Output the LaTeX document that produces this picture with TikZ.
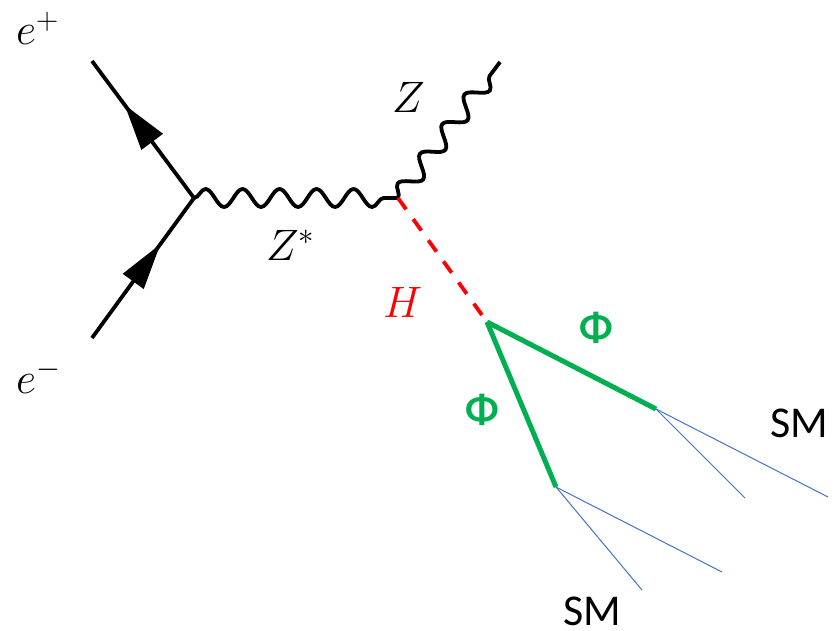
\documentclass[tikz,border=0pt]{standalone}
\usepackage{fix-cm}
\usepackage{fontspec}
\newfontfamily\calib{Carlito}
\usetikzlibrary{decorations.pathmorphing,calc}
\definecolor{phigreen}{RGB}{0,176,80}
\definecolor{smblue}{RGB}{68,114,196}
\tikzset{
  fermion/.style={line width=3.8pt, black},
  boson/.style={line width=3.8pt, black, decorate, decoration={snake, amplitude=9pt, segment length=37pt}},
  higgs/.style={line width=3.8pt, red, dash pattern=on 14pt off 12pt},
  philine/.style={line width=5pt, phigreen},
  smline/.style={line width=1pt, smblue},
  mathlbl/.style={inner sep=0pt, anchor=base west, font=\fontsize{44}{50}\selectfont},
  smlbl/.style={inner sep=0pt, anchor=base west, font=\fontsize{44}{50}\selectfont\calib},
  philbl/.style={inner sep=0pt, font=\fontsize{42}{48}\selectfont\calib\bfseries, text=phigreen},
  arrtri/.style={fill=black}
}
\begin{document}
\begin{tikzpicture}[x=1pt,y=-1pt]
\useasboundingbox (0,0) rectangle (835,631);
% vertices
\coordinate (ep) at (92,61);
\coordinate (em) at (92,338);
\coordinate (v1) at (194,198);
\coordinate (v2) at (398,198);
\coordinate (zend) at (500,62);
\coordinate (v3) at (487,322);
\coordinate (p1) at (656,409);
\coordinate (p2) at (556,487);
\coordinate (s1a) at (745,498);
\coordinate (s1b) at (828,497);
\coordinate (s2a) at (642,590);
\coordinate (s2b) at (722,572);
% fermion lines
\draw[fermion] (ep) -- (v1);
\draw[fermion] (em) -- (v1);
% arrows
\coordinate (t1) at ($(v1)!116pt!(ep)$);
\coordinate (b1) at ($(t1)!46pt!(v1)$);
\fill[arrtri] (t1) -- ($(b1)!13.5pt!90:(t1)$) -- ($(b1)!13.5pt!-90:(t1)$) -- cycle;
\coordinate (t2) at ($(em)!116pt!(v1)$);
\coordinate (b2) at ($(t2)!46pt!(em)$);
\fill[arrtri] (t2) -- ($(b2)!13pt!90:(t2)$) -- ($(b2)!13pt!-90:(t2)$) -- cycle;
% bosons
\draw[boson] (v1) -- (v2);
\draw[boson] (v2) -- (zend);
% higgs
\draw[higgs] (v2) -- (v3);
% phi lines
\draw[philine] (v3) -- (p1);
\draw[philine] (v3) -- (p2);
% SM lines
\draw[smline] (p1) -- (s1a);
\draw[smline] (p1) -- (s1b);
\draw[smline] (p2) -- (s2a);
\draw[smline] (p2) -- (s2b);
% labels
\node[mathlbl] (lep) at (16,45) {$e^+$};
\node[mathlbl] (lem) at (16,393) {$e^-$};
\node[mathlbl] (lz) at (392,113) {$Z$};
\node[mathlbl] (lzs) at (266,260) {$Z^*$};
\node[mathlbl, text=red] (lh) at (383,317) {$H$};
\node[philbl] (lphi1) at (596,328) {Φ};
\node[philbl] (lphi2) at (482,410) {Φ};
\node[smlbl] (lsm1) at (770,437) {SM};
\node[smlbl] (lsm2) at (563,625) {SM};
\end{tikzpicture}
\end{document}
